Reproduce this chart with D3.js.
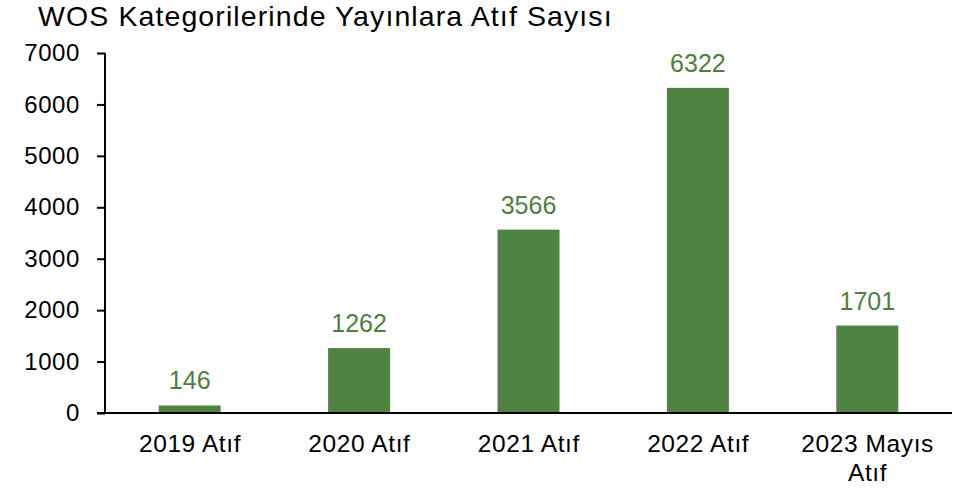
<!DOCTYPE html>
<html><head><meta charset="utf-8">
<script src="https://cdn.jsdelivr.net/npm/d3@7"></script>
<style>body{margin:0;background:#fff}svg{display:block}</style>
</head><body>
<svg id="c" width="974" height="490"></svg>
<script>
const categories = [["2019 Atıf"],["2020 Atıf"],["2021 Atıf"],["2022 Atıf"],["2023 Mayıs","Atıf"]];
const values = [146, 1262, 3566, 6322, 1701];
const yTicks = [0,1000,2000,3000,4000,5000,6000,7000];
const title = "WOS Kategorilerinde Yayınlara Atıf Sayısı";

(function(){
const svg = d3.select("#c");
const font = "'Liberation Sans', Arial, sans-serif";
const barColor = "#4F8342", labelColor = "#4F7F3C";
const pL = 105, pR = 952, pT = 53, pB = 413;

const x = d3.scaleBand().domain(d3.range(categories.length)).range([pL, pR])
  .paddingInner(0.634).paddingOuter(0.317);
const y = d3.scaleLinear().domain([0, 7000]).range([pB, pT]);

svg.append("text").attr("x", 38).attr("y", 26).attr("font-family", font)
  .attr("font-size", 28.5).attr("letter-spacing", 1.1).attr("fill", "#000").text(title);

svg.selectAll("rect.bar").data(values).join("rect").attr("class","bar")
  .attr("x", (d,i)=>x(i)).attr("width", x.bandwidth())
  .attr("y", d=>y(d)).attr("height", d=>pB - y(d)).attr("fill", barColor);

svg.selectAll("text.val").data(values).join("text").attr("class","val")
  .attr("x", (d,i)=>x(i)+x.bandwidth()/2).attr("y", d=>y(d)-16)
  .attr("text-anchor","middle").attr("font-family", font).attr("font-size", 25)
  .attr("fill", labelColor).text(d=>d);

const yAxis = svg.append("g").attr("transform", `translate(${pL},0)`)
  .call(d3.axisLeft(y).tickValues(yTicks).tickSize(8).tickPadding(17).tickFormat(d3.format("d")));
yAxis.select(".domain").attr("stroke","#000").attr("stroke-width",2).attr("d", `M0,${pT}V${pB}`);
yAxis.selectAll(".tick line").attr("stroke","#000").attr("stroke-width",2);
yAxis.selectAll(".tick text").attr("font-family", font).attr("font-size", 24)
  .attr("letter-spacing", 0.6).attr("fill","#000");

svg.append("line").attr("x1", pL-8).attr("x2", pR).attr("y1", pB).attr("y2", pB)
  .attr("stroke","#000").attr("stroke-width",2);
const xl = svg.selectAll("text.cat").data(categories).join("text").attr("class","cat")
  .attr("x", (d,i)=>x(i)+x.bandwidth()/2).attr("y", 452)
  .attr("text-anchor","middle").attr("font-family", font).attr("font-size", 24.5)
  .attr("letter-spacing", 0.6).attr("fill","#000");
xl.each(function(d){
  const t = d3.select(this);
  d.forEach((line,j)=>{
    t.append("tspan").attr("x", +t.attr("x")+0.3).attr("dy", j===0?0:29).text(line);
  });
});
})();
</script>
</body></html>
